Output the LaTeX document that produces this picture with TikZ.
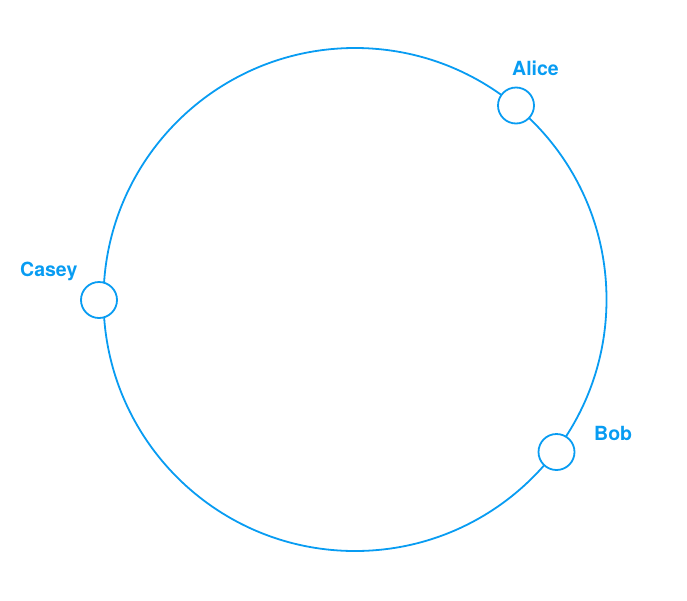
\documentclass[tikz,border=0pt]{standalone}
\usepackage{fontspec}
\setmainfont{TeX Gyre Heros}
\definecolor{ringblue}{RGB}{8,156,242}
\begin{document}
\begin{tikzpicture}[x=1pt,y=-1pt,
  ring/.style={draw=ringblue,line width=1.8pt,circle,inner sep=0pt,minimum size=503pt},
  peer/.style={draw=ringblue,line width=1.8pt,circle,fill=white,inner sep=0pt,minimum size=36pt},
  lbl/.style={text=ringblue,font=\fontsize{19.5}{22}\selectfont\bfseries,inner sep=0pt,anchor=base west}]
\useasboundingbox (0,0) rectangle (687,600);
\node[ring] (ring) at (355,299.5) {};
\node[peer] (alice) at (516,105.5) {};
\node[peer] (bob) at (556.5,452) {};
\node[peer] (casey) at (99,300) {};
\node[lbl] (alicel) at (512,75) {Alice};
\node[lbl] (bobl) at (594,440) {Bob};
\node[lbl] (caseyl) at (20,276) {Casey};
\end{tikzpicture}
\end{document}
